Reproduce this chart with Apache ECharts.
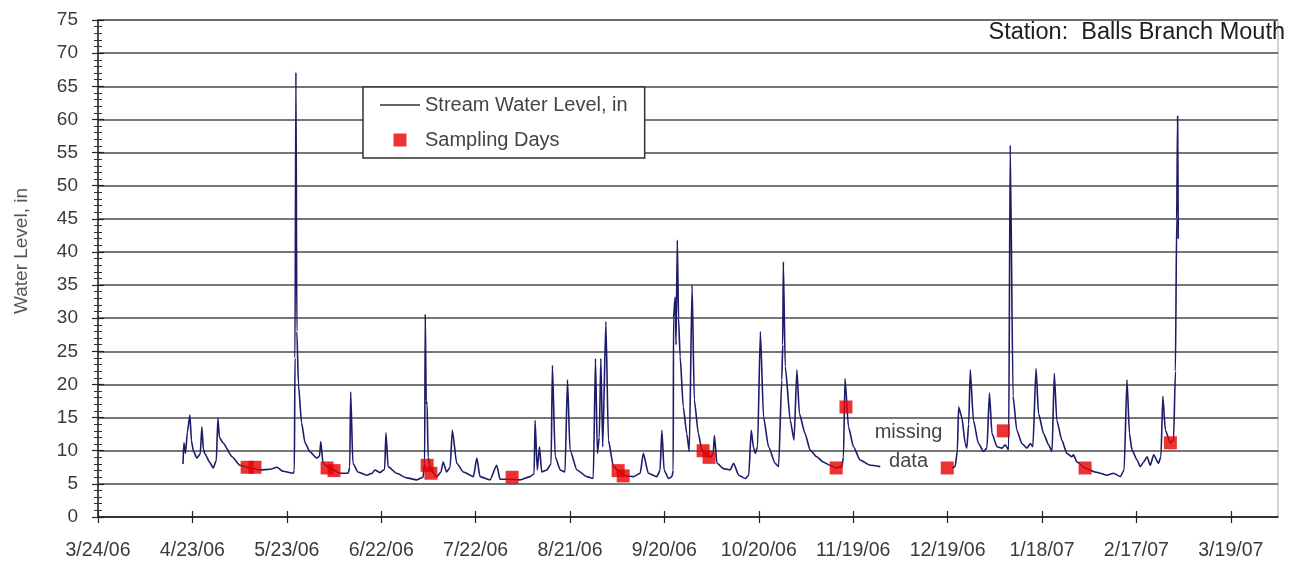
<!DOCTYPE html>
<html><head><meta charset="utf-8">
<script src="https://cdn.jsdelivr.net/npm/echarts@6/dist/echarts.min.js"></script>
<style>html,body{margin:0;padding:0;background:#fff}#c{width:1299px;height:565px}</style>
</head><body><div id="c"></div>
<script>
// ---- data ----
const baseDate = '3/24/06';          // day 0 of the x axis
const axisEndDate = '4/3/07';        // right edge of the plot
const xTickLabels = ['3/24/06','4/23/06','5/23/06','6/22/06','7/22/06','8/21/06','9/20/06','10/20/06','11/19/06','12/19/06','1/18/07','2/17/07','3/19/07'];
const yTickMin = 0, yTickMax = 75, yTickStep = 5;

// stream water level: days after 3/24/06 (null value = missing data)
const levelDays = [27.0,27.3,27.8,28.4,29.2,29.7,30.3,31.4,32.5,33.0,33.5,34.0,35.6,36.6,37.6,38.1,38.6,39.7,42.6,45.1,48.3,51.5,54.7,56.9,58.8,62.0,62.4,62.6,62.9,63.2,63.7,64.7,65.8,67.4,69.5,70.4,70.8,71.5,73.7,76.9,79.5,80.0,80.3,81.0,82.6,85.4,87.1,88.0,89.6,91.1,91.5,92.2,94.9,98.1,101.3,103.3,103.8,104.0,104.3,104.6,104.9,105.8,107.7,109.0,109.7,110.8,111.9,112.6,114.0,116.1,119.3,120.4,121.4,124.6,126.7,127.8,131.0,134.1,137.3,138.6,138.9,139.6,140.3,141.0,142.6,144.0,144.4,145.3,146.9,148.4,149.2,150.0,152.2,155.3,157.4,158.1,158.7,159.3,159.8,160.4,161.4,162.2,163.8,165.9,167.8,170.2,172.3,173.3,174.9,177.6,178.6,179.2,179.9,181.3,182.4,182.8,182.9,183.4,183.7,184.1,184.5,185.0,186.0,187.1,187.9,188.8,189.5,190.8,191.9,193.3,194.5,195.5,195.9,196.7,198.8,200.9,202.0,203.6,205.7,206.8,207.6,208.3,208.9,209.6,210.5,211.5,213.1,215.2,216.3,217.3,217.6,217.8,218.4,220.0,221.2,222.1,222.9,224.7,226.3,228.4,230.5,232.6,234.5,236.4,236.9,237.4,238.5,240.1,242.2,245.4,248.6,
  260.0,
  271.4,272.4,273.1,273.5,274.5,275.6,276.1,276.7,277.2,278.2,279.8,281.4,282.5,283.3,284.1,285.7,287.3,288.3,289.4,289.9,290.8,292.0,293.6,295.2,296.3,297.1,298.1,298.9,300.5,302.1,303.2,303.9,304.7,306.3,307.9,309.5,310.0,311.1,313.7,316.9,318.5,320.6,322.7,324.9,326.1,327.0,327.8,328.6,330.2,331.2,332.3,333.4,334.4,335.5,337.0,337.8,338.4,339.2,340.8,341.8,342.4,342.8,343.1,343.3];
const levelValues = [8.0,11.2,9.6,12.8,15.4,11.5,10.0,8.9,9.5,13.6,10.2,9.5,8.2,7.4,8.5,14.9,12.0,11.2,9.1,7.8,7.4,7.1,7.2,7.5,6.9,6.6,7.0,24.0,67.1,28.0,20.0,14.2,11.2,9.8,8.9,9.2,11.4,8.1,7.4,6.6,6.6,7.5,18.9,8.1,6.8,6.3,6.6,7.1,6.7,7.2,12.7,7.6,6.6,5.9,5.6,6.0,8.0,30.6,17.5,16.9,9.0,7.0,6.1,6.8,8.3,6.8,7.5,13.1,8.1,6.8,6.1,8.9,6.1,5.6,7.8,5.7,5.7,5.6,6.1,6.5,14.6,7.1,10.6,6.8,7.1,8.0,22.9,9.1,7.1,6.8,20.7,10.1,7.1,6.1,5.8,23.9,9.6,12.0,23.9,10.6,29.5,11.6,7.6,6.8,6.2,6.1,6.6,9.6,6.6,6.1,7.0,13.1,7.1,5.8,6.1,7.0,30.0,33.2,26.0,41.8,30.0,24.2,16.6,12.6,9.9,35.0,17.7,12.6,10.1,9.5,9.0,9.5,12.3,8.1,7.3,7.1,8.1,6.3,5.8,6.3,13.1,10.5,9.6,10.6,28.0,15.1,10.6,8.1,7.6,20.7,26.0,38.5,22.7,14.6,11.6,22.2,15.6,12.6,10.1,9.1,8.3,7.8,7.4,7.6,9.0,20.9,13.6,10.6,8.6,7.8,7.6,
  null,
  7.4,7.6,10.0,16.6,15.1,11.1,10.4,14.0,22.2,14.6,11.1,9.9,10.4,18.7,12.6,10.6,10.4,10.9,10.1,56.1,18.2,13.1,11.1,10.4,11.1,10.6,22.4,15.6,12.6,10.9,9.9,21.7,14.6,11.6,9.6,9.1,9.4,8.3,7.4,6.8,6.6,6.3,6.6,6.1,7.1,20.7,12.6,10.1,8.6,7.6,8.3,9.1,7.8,9.4,8.1,9.1,18.2,13.1,11.2,11.6,22.0,45.0,60.5,42.0];

// sampling days
const sampleDays = [47.4,49.9,72.8,75.0,104.6,105.8,131.6,165.3,166.9,192.3,194.2,234.6,237.7,269.9,287.7,313.7,340.8];
const sampleValues = [7.5,7.5,7.4,7.0,7.8,6.6,6.0,7.0,6.2,10.0,9.0,7.4,16.6,7.4,13.0,7.4,11.2];

const missingNote = {text: 'missing\ndata', day: 257.6, value: 10.6};
const titleText = 'Station:  Balls Branch Mouth';
const yAxisTitle = 'Water Level, in';
const lineName = 'Stream Water Level, in';
const sampleName = 'Sampling Days';

// ---- helpers ----
function parseMDY(s){ const p = s.split('/').map(Number); return Date.UTC(2000 + p[2], p[0] - 1, p[1]); }
const baseMs = parseMDY(baseDate);
function dayOf(s){ return Math.round((parseMDY(s) - baseMs) / 86400000); }
function labelOf(day){ const d = new Date(baseMs + Math.round(day) * 86400000); return (d.getUTCMonth()+1) + '/' + d.getUTCDate() + '/' + String(d.getUTCFullYear()).slice(2); }
const xTickDays = xTickLabels.map(dayOf);
const xMax = dayOf(axisEndDate);

const FONT = "'Liberation Sans', Arial, sans-serif";
const lineData = levelDays.map((d, i) => [d, levelValues[i] === null ? '-' : levelValues[i]]);
const sampleData = sampleDays.map((d, i) => [d, sampleValues[i]]);

const chart = echarts.init(document.getElementById('c'), null, {renderer: 'canvas'});
const yCommon = {type: 'value', min: yTickMin, max: yTickMax, interval: yTickStep, position: 'left'};
const xCommon = {type: 'value', min: 0, max: xMax, interval: 30, position: 'bottom'};

chart.setOption({
  animation: false,
  backgroundColor: '#fff',
  title: {
    text: titleText, right: 14, top: 21, padding: 0,
    textStyle: {fontFamily: FONT, fontSize: 23.5, fontWeight: 'normal', color: '#1e1e1e'}
  },
  legend: {
    orient: 'vertical', left: 363, top: 87,
    padding: [8, 17, 8, 17], itemGap: 15, itemWidth: 40, itemHeight: 13,
    symbolKeepAspect: true,
    backgroundColor: '#fff', borderColor: '#333', borderWidth: 1.5,
    textStyle: {fontFamily: FONT, fontSize: 20, color: '#444'},
    data: [
      {name: lineName, icon: 'path://M0,0H40V1.5H0Z', itemStyle: {color: '#333'}},
      {name: sampleName, icon: 'path://M0,0H13V13H0Z'}
    ]
  },
  grid: {left: 98, right: 21, top: 20, bottom: 48, show: true, borderColor: '#aaa', borderWidth: 1, backgroundColor: 'transparent'},
  graphic: [{
    type: 'text', x: 22, y: 251, rotation: Math.PI / 2,
    style: {text: yAxisTitle, fontFamily: FONT, fontSize: 19, fill: '#555', align: 'center', verticalAlign: 'middle'}
  }],
  xAxis: [
    Object.assign({}, xCommon, {
      axisLine: {show: true, lineStyle: {color: '#222', width: 1.5}},
      axisTick: {show: true, inside: false, length: 6, customValues: xTickDays, lineStyle: {color: '#222', width: 1.2}},
      axisLabel: {customValues: xTickDays, margin: 24, fontFamily: FONT, fontSize: 19.5, color: '#3a3a3a', formatter: v => labelOf(v)},
      splitLine: {show: false}
    }),
    Object.assign({}, xCommon, {
      axisLine: {show: false},
      axisTick: {show: true, inside: true, length: 6, customValues: xTickDays, lineStyle: {color: '#222', width: 1.2}},
      axisLabel: {show: false},
      splitLine: {show: false}
    })
  ],
  yAxis: [
    Object.assign({}, yCommon, {
      axisLine: {show: true, lineStyle: {color: '#222', width: 1.5}},
      axisTick: {show: true, inside: false, length: 6, lineStyle: {color: '#222', width: 1.2}},
      minorTick: {show: true, splitNumber: 5, length: 4, lineStyle: {color: '#333', width: 1}},
      axisLabel: {margin: 20, fontFamily: FONT, fontSize: 19, color: '#3a3a3a'},
      splitLine: {show: true, lineStyle: {color: '#4a4a4a', width: 1.5}},
      minorSplitLine: {show: false}
    }),
    Object.assign({}, yCommon, {
      axisLine: {show: false},
      axisTick: {show: true, inside: true, length: 6, lineStyle: {color: '#222', width: 1.2}},
      minorTick: {show: true, splitNumber: 5, length: 4, lineStyle: {color: '#333', width: 1}},
      axisLabel: {show: false},
      splitLine: {show: false}
    })
  ],
  series: [
    {
      name: lineName, type: 'line', xAxisIndex: 0, yAxisIndex: 0,
      data: lineData, symbol: 'none', showSymbol: false, connectNulls: false,
      smooth: 0.2, smoothMonotone: 'x',
      lineStyle: {color: '#1c1c6a', width: 1.6}, itemStyle: {color: '#1c1c6a'},
      z: 3,
      markPoint: {
        symbol: 'rect', symbolSize: 1, itemStyle: {color: 'rgba(0,0,0,0)'},
        label: {show: true, position: 'inside', formatter: missingNote.text, fontFamily: FONT, fontSize: 20, lineHeight: 29, color: '#444'},
        data: [{coord: [missingNote.day, missingNote.value]}]
      }
    },
    {
      name: sampleName, type: 'scatter', xAxisIndex: 0, yAxisIndex: 0,
      data: sampleData, symbol: 'rect', symbolSize: 13,
      itemStyle: {color: '#e60000'}, z: 4
    }
  ]
});
</script>
</body></html>
